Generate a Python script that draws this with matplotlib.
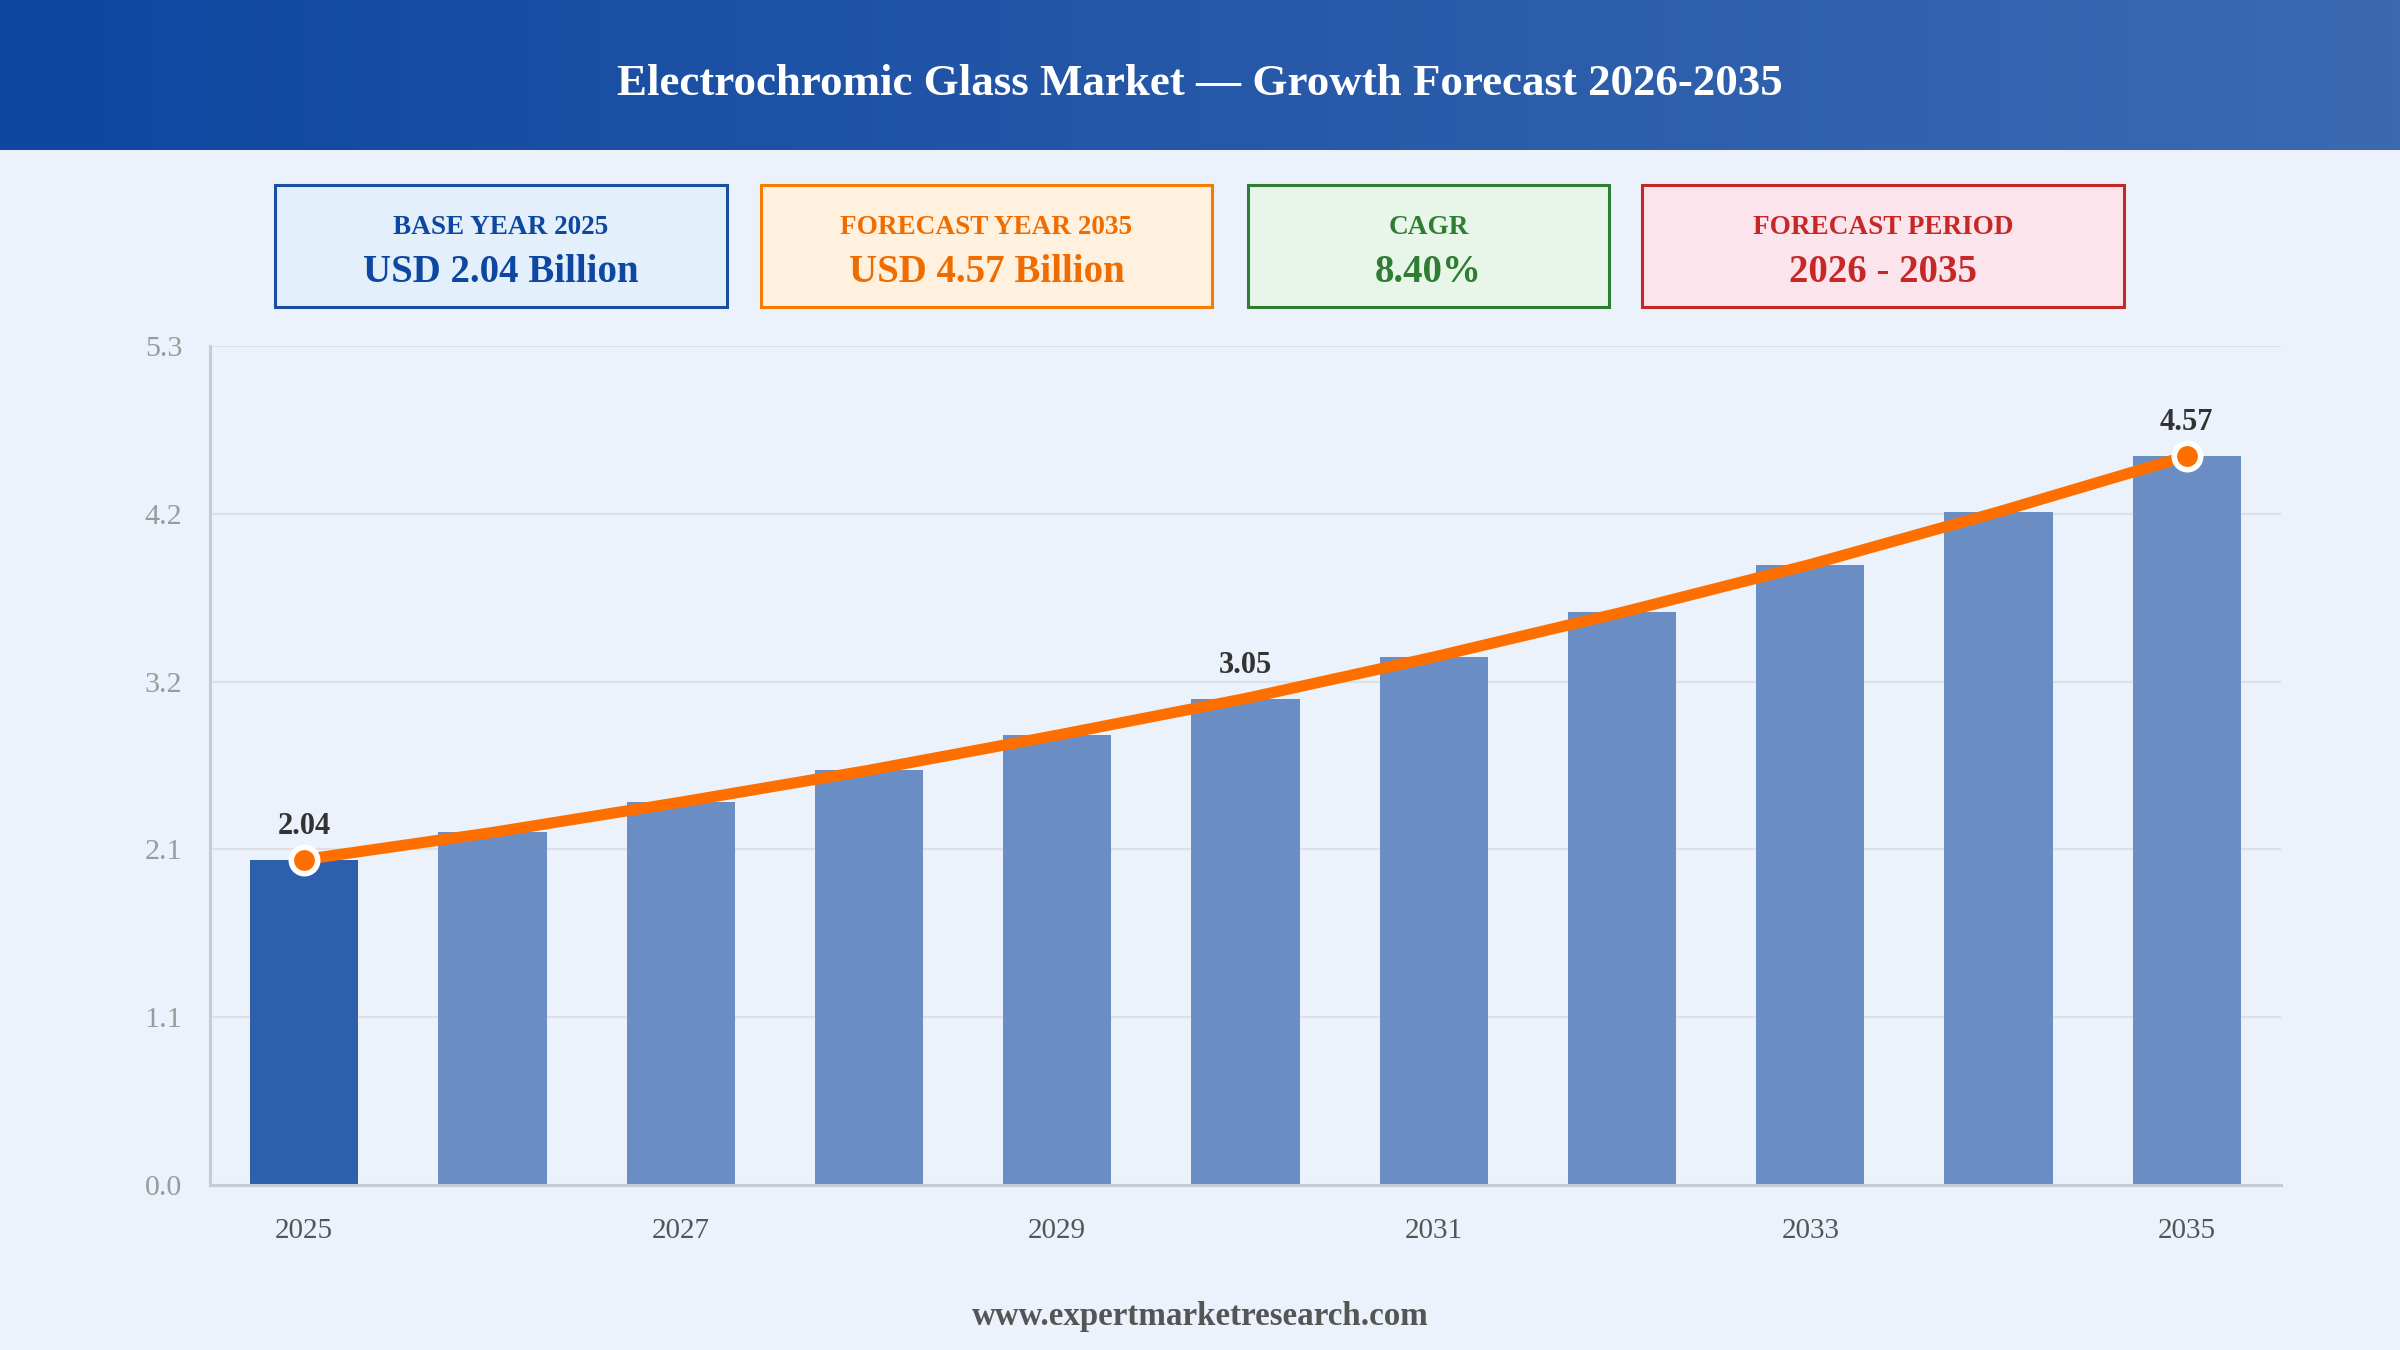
import numpy as np
import matplotlib
matplotlib.use("Agg")
import matplotlib.pyplot as plt
from matplotlib.patches import Rectangle
from matplotlib.colors import LinearSegmentedColormap

plt.rcParams['font.family'] = ['Liberation Serif', 'DejaVu Serif']

# ---------------- data ----------------
years = [2025, 2026, 2027, 2028, 2029, 2030, 2031, 2032, 2033, 2034, 2035]
values = [2.04, 2.21, 2.40, 2.60, 2.82, 3.05, 3.31, 3.59, 3.89, 4.22, 4.57]
labeled_years = [2025, 2030, 2035]
marker_years = [2025, 2035]
xtick_years = [2025, 2027, 2029, 2031, 2033, 2035]
y_max = 5.26
ytick_labels = ['0.0', '1.1', '2.1', '3.2', '4.2', '5.3']

title = "Electrochromic Glass Market \u2014 Growth Forecast 2026-2035"
card_titles = ["BASE YEAR 2025", "FORECAST YEAR 2035", "CAGR", "FORECAST PERIOD"]
card_values = ["USD 2.04 Billion", "USD 4.57 Billion", "8.40%", "2026 - 2035"]
footer = "www.expertmarketresearch.com"

# ---------------- styles ----------------
W, H = 2400, 1350
DPI = 200
BG = '#EBF2FB'
card_edge = ['#1A4FA0', '#F57C00', '#2E7D32', '#C62828']
card_fill = ['#E3F0FC', '#FFF1DE', '#E8F5E9', '#FCE4EC']
card_text = ['#0D47A1', '#EF6C00', '#2E7D32', '#C62828']
card_x = [(275, 727), (761, 1212), (1248, 1609), (1642, 2124)]
card_y = (185, 307)

fig = plt.figure(figsize=(W / DPI, H / DPI), dpi=DPI, facecolor=BG)

def fx(px):
    return px / W

def fy(py):
    return 1 - py / H

# header gradient
hax = fig.add_axes([0, fy(150), 1, 150 / H])
cmap = LinearSegmentedColormap.from_list('hdr', ['#0E46A0', '#2658A8', '#3B6AB3'])
grad = np.linspace(0, 1, 512).reshape(1, -1)
hax.imshow(grad, aspect='auto', cmap=cmap, extent=[0, 1, 0, 1])
hax.set_axis_off()
fig.text(0.5, fy(84), title, color='white', fontsize=16.2, fontweight='bold',
         ha='center', va='center')

# cards
for i in range(4):
    x0, x1 = card_x[i]
    y0, y1 = card_y
    fig.patches.append(Rectangle((fx(x0), fy(y1)), fx(x1 - x0), (y1 - y0) / H,
                                 transform=fig.transFigure, facecolor=card_fill[i],
                                 edgecolor=card_edge[i], linewidth=1.1))
    cx = fx((x0 + x1) / 2)
    fig.text(cx, fy(227), card_titles[i], color=card_text[i], fontsize=9.8,
             fontweight='bold', ha='center', va='center')
    fig.text(cx, fy(273), card_values[i], color=card_text[i], fontsize=14,
             fontweight='bold', ha='center', va='center')

# main chart
ax = fig.add_axes([fx(210), fy(1185), fx(2281 - 210), (1185 - 346) / H])
ax.set_facecolor(BG)
idx = np.arange(len(years))
bar_colors = ['#2E5FAC' if y == 2025 else '#6A8EC4' for y in years]
ax.bar(idx, values, width=0.575, color=bar_colors, zorder=2)
mk = [years.index(y) for y in marker_years]
ax.plot(idx, values, color='#FF6F00', linewidth=4.0, zorder=3,
        marker='o', markevery=mk, markersize=9.5, markerfacecolor='#FF6F00',
        markeredgecolor='white', markeredgewidth=2.0, solid_capstyle='round')
for y in labeled_years:
    i = years.index(y)
    ax.annotate(f"{values[i]:.2f}", (i, values[i]), xytext=(0, 12),
                textcoords='offset points', ha='center', va='center',
                fontsize=11, fontweight='bold', color='#333333', zorder=4)

ax.set_xlim(-0.5, len(years) - 0.5)
ax.set_ylim(0, y_max)
yt = np.linspace(0, y_max, 6)
ax.set_yticks(yt)
ax.set_yticklabels(ytick_labels)
ax.set_xticks([years.index(y) for y in xtick_years])
ax.set_xticklabels([str(y) for y in xtick_years])
ax.tick_params(axis='y', length=0, pad=10, labelsize=10.8, labelcolor='#9A9A9A')
ax.tick_params(axis='x', length=0, pad=12, labelsize=10.5, labelcolor='#555555')
ax.grid(axis='y', color='#DCE1E8', linewidth=0.8, zorder=0)
ax.set_axisbelow(True)
for s in ['top', 'right']:
    ax.spines[s].set_visible(False)
for s in ['left', 'bottom']:
    ax.spines[s].set_color('#C8CCD2')
    ax.spines[s].set_linewidth(1.1)

fig.text(0.5, fy(1317), footer, color='#555555', fontsize=11.9, fontweight='bold',
         ha='center', va='center')

fig.savefig('out.png', dpi=DPI, facecolor=BG)
